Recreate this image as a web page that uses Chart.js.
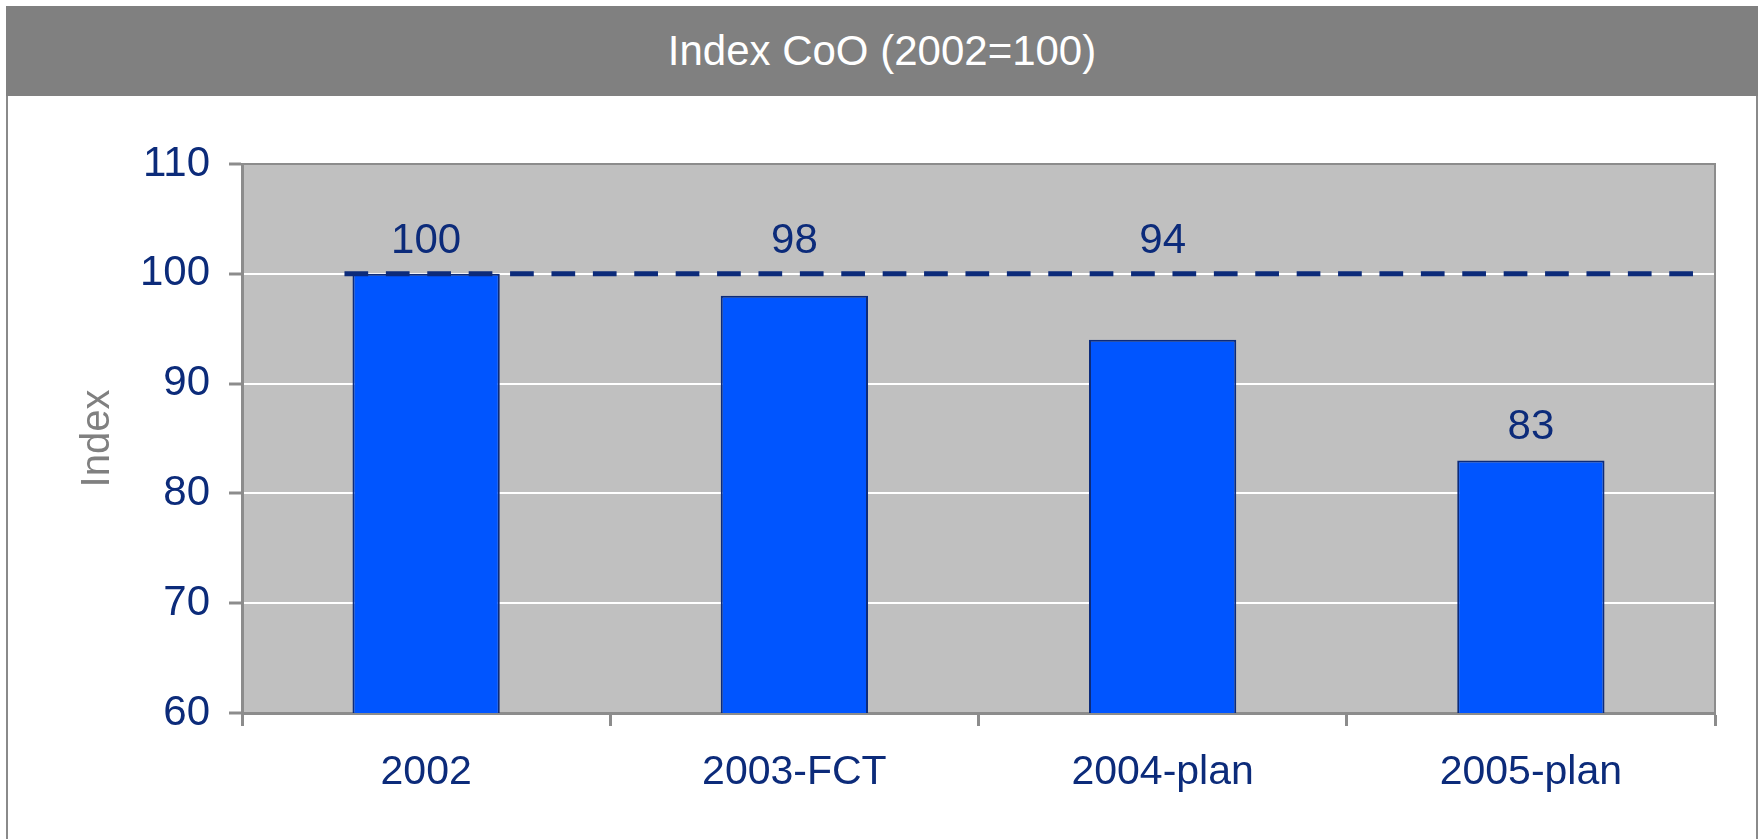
<!DOCTYPE html>
<html>
<head>
<meta charset="utf-8">
<script src="https://cdn.jsdelivr.net/npm/chart.js@4.4.1/dist/chart.umd.min.js"></script>
<style>
  body { margin: 0; background: #fff; }
  #titleBar {
    position: absolute; left: 6px; top: 6px; width: 1752px; height: 90px;
    background: #808080; color: #fff;
    font: 42px 'Liberation Sans', Arial, sans-serif;
    display: flex; align-items: center; justify-content: center;
  }
  #frame {
    position: absolute; left: 6px; top: 96px; width: 1748px; height: 743px;
    border-left: 2px solid #8a8a8a; border-right: 2px solid #8a8a8a;
  }
  #myChart { position: absolute; left: 0; top: 0; }
</style>
</head>
<body>
<div id="titleBar">Index CoO (2002=100)</div>
<div id="frame"></div>
<canvas id="myChart" width="1763" height="839"></canvas>
<script>
// data
const categories = ["2002", "2003-FCT", "2004-plan", "2005-plan"];
const indexValues = [100, 98, 94, 83];
const baseline = 100;
const yTicks = [60, 70, 80, 90, 100, 110];

const navy = "#0c2b7a";
const axisGrey = "#8c8c8c";
Chart.defaults.font.family = "'Liberation Sans', Arial, sans-serif";

// grey plot area + top/right border
const plotArea = {
  id: "plotArea",
  beforeDraw(chart) {
    const { ctx, chartArea: a } = chart;
    ctx.save();
    ctx.fillStyle = "#c0c0c0";
    ctx.fillRect(a.left, a.top, a.right - a.left, a.bottom - a.top);
    ctx.restore();
  },
  beforeDatasetsDraw(chart) {
    const { ctx, chartArea: a } = chart;
    ctx.save();
    ctx.strokeStyle = axisGrey;
    ctx.lineWidth = 2;
    ctx.beginPath();
    ctx.moveTo(a.left, a.top);
    ctx.lineTo(a.right, a.top);
    ctx.lineTo(a.right, a.bottom);
    ctx.stroke();
    ctx.restore();
  },
};

// dashed reference line at 2002 level, then value labels
const refAndLabels = {
  id: "refAndLabels",
  afterDatasetsDraw(chart) {
    const { ctx, chartArea: a } = chart;
    const y = chart.scales.y;
    const bars = chart.getDatasetMeta(0).data;
    const yBase = y.getPixelForValue(baseline);

    ctx.save();
    ctx.strokeStyle = navy;
    ctx.lineWidth = 5;
    ctx.setLineDash([23.7, 17.7]);
    ctx.beginPath();
    ctx.moveTo(bars[0].x - bars[0].width / 2 - 8, yBase);
    ctx.lineTo(a.right - 8, yBase);
    ctx.stroke();
    ctx.restore();

    ctx.save();
    ctx.fillStyle = navy;
    ctx.font = "42px 'Liberation Sans', Arial, sans-serif";
    ctx.textAlign = "center";
    ctx.textBaseline = "alphabetic";
    bars.forEach((bar, i) => {
      let ly = bar.y - 21;
      // labels close to the dashed line are lifted above it
      if (ly - 30 < yBase + 40) ly = Math.min(ly, yBase - 21);
      ctx.fillText(String(indexValues[i]), bar.x, ly);
    });
    ctx.restore();
  },
};

const config = {
  type: "bar",
  data: {
    labels: categories,
    datasets: [
      {
        data: indexValues,
        backgroundColor: "#0055ff",
        borderColor: navy,
        borderWidth: 2,
        barPercentage: 0.4,
        categoryPercentage: 1.0,
      },
    ],
  },
  options: {
    responsive: false,
    animation: false,
    devicePixelRatio: 1,
    layout: { padding: { left: 0, top: 164, right: 48, bottom: 0 } },
    plugins: { legend: { display: false }, tooltip: { enabled: false } },
    scales: {
      x: {
        afterFit(scale) { scale.height = 126; },
        grid: {
          offset: true,
          drawOnChartArea: false,
          tickLength: 13,
          tickColor: axisGrey,
          tickWidth: 3,
        },
        border: { color: axisGrey, width: 3 },
        ticks: { color: navy, font: { size: 41 }, padding: 22 },
      },
      y: {
        min: yTicks[0],
        max: yTicks[yTicks.length - 1],
        afterFit(scale) { scale.width = 242; },
        afterBuildTicks(scale) { scale.ticks = yTicks.map(v => ({ value: v })); },
        grid: {
          color: "#ffffff",
          lineWidth: 2,
          tickLength: 13,
          tickColor: axisGrey,
          tickWidth: 3,
        },
        border: { color: axisGrey, width: 3 },
        ticks: { color: navy, font: { size: 42 }, padding: 19 },
        title: {
          display: true,
          text: "Index",
          color: "#808080",
          font: { size: 40 },
          padding: { top: 74, bottom: 0 },
        },
      },
    },
  },
  plugins: [plotArea, refAndLabels],
};

const myChart = new Chart(document.getElementById("myChart"), config);
</script>
</body>
</html>
